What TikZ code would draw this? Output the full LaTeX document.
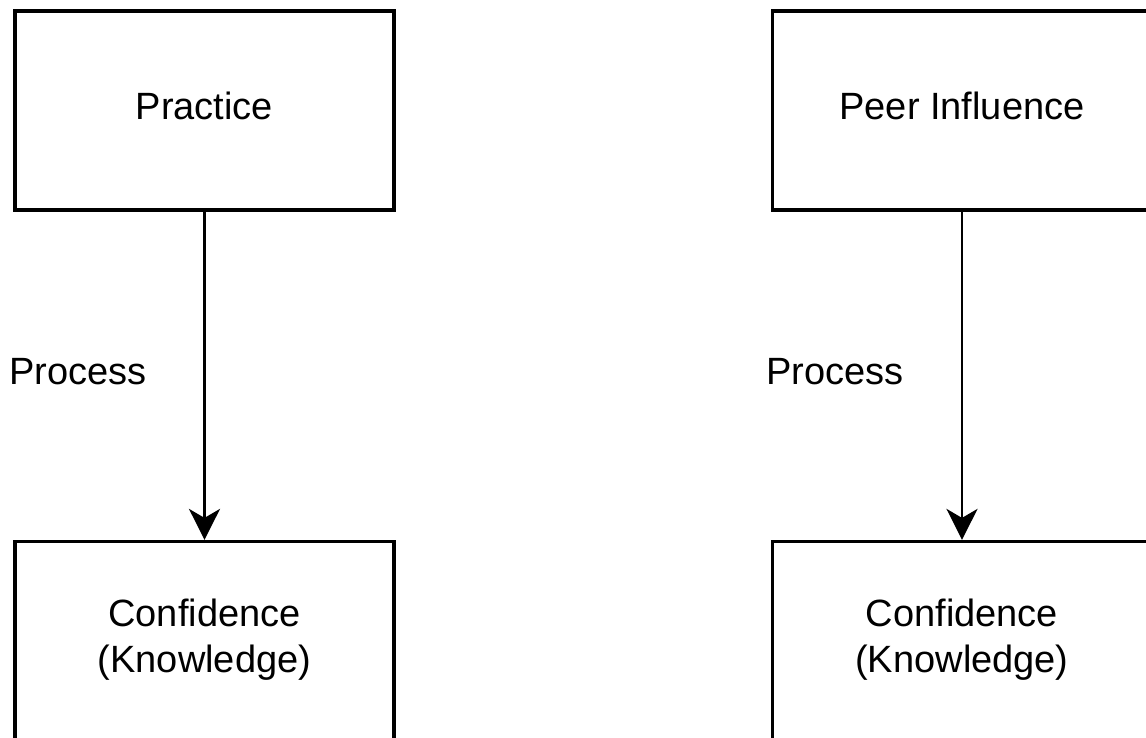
\documentclass[tikz,border=0pt]{standalone}
\usepackage{fontspec}
\setmainfont{Liberation Sans}
\usetikzlibrary{arrows.meta}
\begin{document}
\begin{tikzpicture}[x=1pt,y=-1pt,
  box/.style={draw=black, line width=3.2pt, minimum width=379pt, minimum height=199pt,
    inner sep=0pt, align=center, font=\fontsize{38}{46}\selectfont},
  lbl/.style={inner sep=0pt, font=\fontsize{38}{46}\selectfont},
  flow/.style={line width=2.4pt, -{Stealth[length=31pt,width=31pt,inset=9pt]}}]
\fill[white] (0,0) rectangle (1146,738);
\useasboundingbox (0,0) rectangle (1146,738);
\clip (0,0) rectangle (1146,738);
% left column
\node[box] (practice) at (204.5,110.5) {};
\node[lbl] at (204.5,106) {Practice};
\node[box] (confA) at (204.5,641) {};
\node[lbl, align=center] at (204.5,640) {Confidence\\(Knowledge)};
\draw[flow] (practice) -- (confA);
\node[lbl] (procA) at (78,372) {Process};
% right column
\node[box] (peer) at (962,110.5) {};
\node[lbl] at (962,106) {Peer Influence};
\node[box] (confB) at (962,641) {};
\node[lbl, align=center] at (962,640) {Confidence\\(Knowledge)};
\draw[flow] (peer) -- (confB);
\node[lbl] (procB) at (835,372) {Process};
\end{tikzpicture}
\end{document}
